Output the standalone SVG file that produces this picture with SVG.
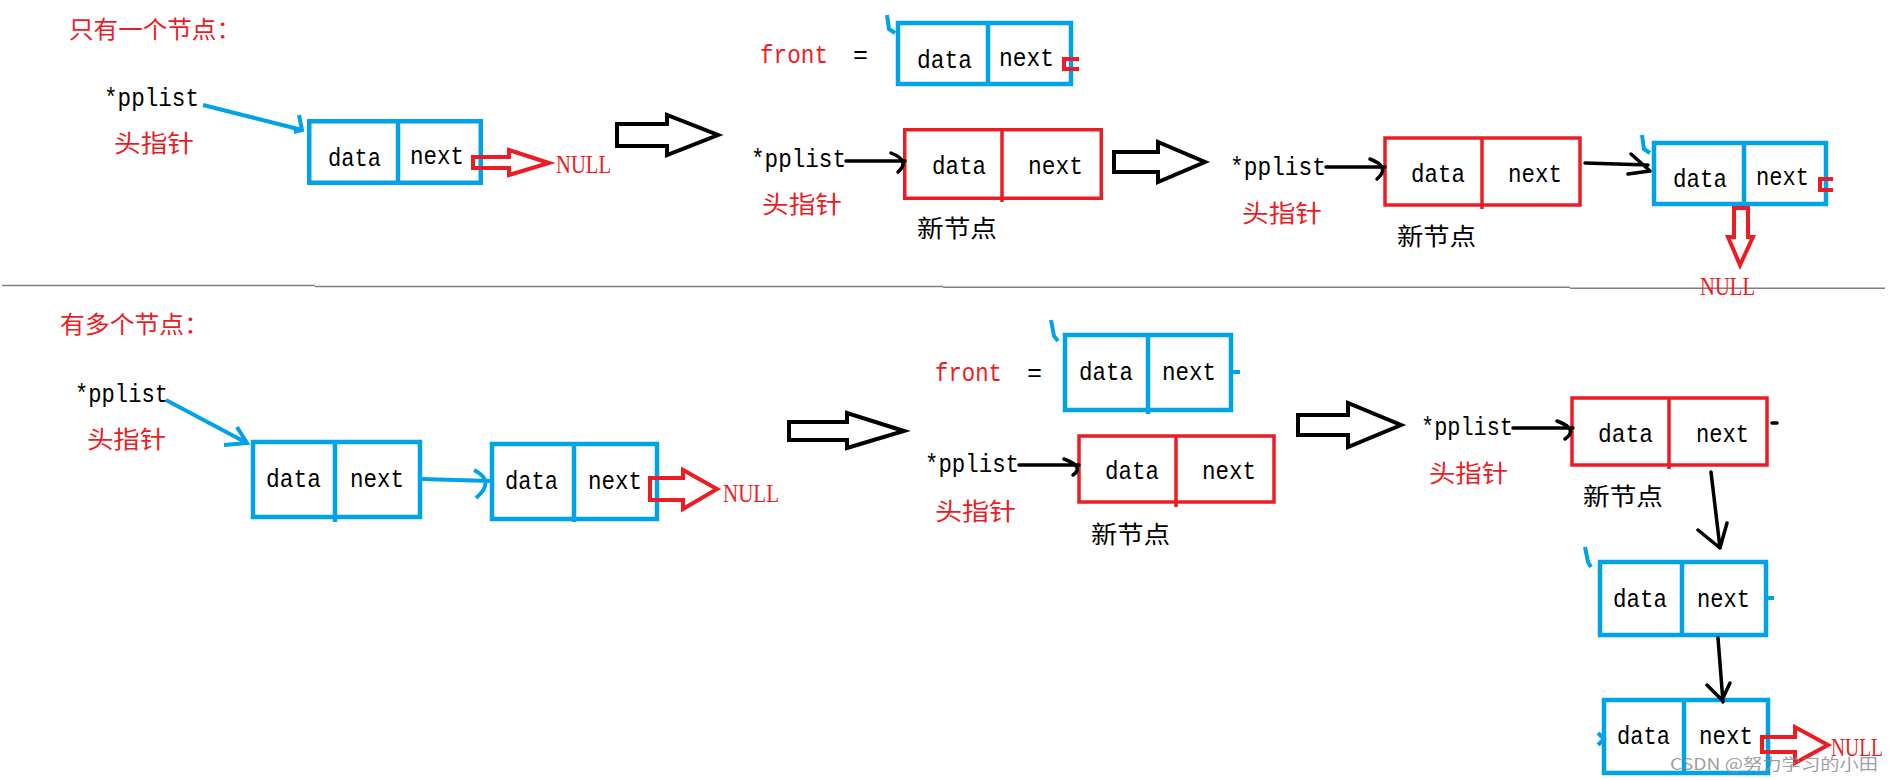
<svg xmlns="http://www.w3.org/2000/svg" width="1893" height="780" viewBox="0 0 1893 780">
<style>
.bb{fill:none;stroke:#00A2E8;stroke-width:4.5}
.bl{fill:none;stroke:#00A2E8;stroke-width:4}
.rb{fill:none;stroke:#ED1C24;stroke-width:3.5}
.rl{fill:none;stroke:#ED1C24;stroke-width:4}
.kl{fill:none;stroke:#000;stroke-width:3.5;stroke-linecap:round;stroke-linejoin:round}
.ha{fill:none;stroke:#000;stroke-width:4;stroke-linejoin:miter}
.ra{fill:none;stroke:#ED1C24;stroke-width:4;stroke-linejoin:miter}
.sep{fill:none;stroke:#808080;stroke-width:1.5}
.m{font-family:"Liberation Mono",monospace;font-size:25px;fill:#000}
.cn{font-family:"Noto Sans CJK SC",sans-serif;font-size:24px}
.red{fill:#ED1C24}
.blk{fill:#000}
.nl{font-family:"Liberation Serif",serif;font-size:26px;fill:#ED1C24}
.wm{font-family:"Noto Sans CJK SC",sans-serif;font-size:16px;fill:#8a8a8a;opacity:0.8}
</style>

<g id="separator">
<path class="sep" d="M2,285.5 H315 M315,286.5 H943 M943,287.3 H1570 M1570,288.3 H1885"/>
</g>

<g id="labels">
<text class="cn red" x="69" y="38" textLength="172" lengthAdjust="spacingAndGlyphs">只有一个节点：</text>
<text class="cn red" x="60" y="333" textLength="149" lengthAdjust="spacingAndGlyphs">有多个节点：</text>
</g>

<!-- Section 1, step 1 -->
<g id="ptr1">
<text class="m" x="104" y="106" textLength="95" lengthAdjust="spacingAndGlyphs">*pplist</text>
<text class="cn red" x="114" y="152" textLength="80" lengthAdjust="spacingAndGlyphs">头指针</text>
</g>
<g id="node1">
<rect class="bb" x="309.25" y="121.25" width="171.5" height="61.5"/>
<line class="bb" x1="398" y1="121" x2="398" y2="183"/>
<text class="m" x="328" y="166" textLength="53" lengthAdjust="spacingAndGlyphs">data</text>
<text class="m" x="410" y="164" textLength="54" lengthAdjust="spacingAndGlyphs">next</text>
</g>
<g id="null1"><text class="nl" x="556" y="173" textLength="55" lengthAdjust="spacingAndGlyphs">NULL</text></g>

<!-- Section 1, step 2 -->
<g id="front1">
<text class="m red" x="760" y="63" textLength="68" lengthAdjust="spacingAndGlyphs">front</text>
<text class="m" x="853" y="63">=</text>
</g>
<g id="node2">
<rect class="bb" x="898" y="23" width="173" height="61"/>
<line class="bb" x1="988" y1="23" x2="988" y2="84"/>
<text class="m" x="917" y="68" textLength="55" lengthAdjust="spacingAndGlyphs">data</text>
<text class="m" x="999" y="66" textLength="55" lengthAdjust="spacingAndGlyphs">next</text>
</g>
<g id="ptr2">
<text class="m" x="751" y="167" textLength="95" lengthAdjust="spacingAndGlyphs">*pplist</text>
<text class="cn red" x="762" y="213" textLength="80" lengthAdjust="spacingAndGlyphs">头指针</text>
</g>
<g id="newnode1">
<rect class="rb" x="904.75" y="129.75" width="196.5" height="68.5"/>
<line class="rb" x1="1002" y1="129" x2="1002" y2="202"/>
<text class="m" x="932" y="174" textLength="54" lengthAdjust="spacingAndGlyphs">data</text>
<text class="m" x="1028" y="174" textLength="55" lengthAdjust="spacingAndGlyphs">next</text>
<text class="cn blk" x="917" y="237" textLength="80" lengthAdjust="spacingAndGlyphs">新节点</text>
</g>

<!-- Section 1, step 3 -->
<g id="ptr3">
<text class="m" x="1230" y="175" textLength="96" lengthAdjust="spacingAndGlyphs">*pplist</text>
<text class="cn red" x="1242" y="222" textLength="80" lengthAdjust="spacingAndGlyphs">头指针</text>
</g>
<g id="newnode2">
<rect class="rb" x="1385" y="138" width="195" height="67"/>
<line class="rb" x1="1482" y1="137" x2="1482" y2="209"/>
<text class="m" x="1411" y="182" textLength="54" lengthAdjust="spacingAndGlyphs">data</text>
<text class="m" x="1508" y="182" textLength="54" lengthAdjust="spacingAndGlyphs">next</text>
<text class="cn blk" x="1397" y="245" textLength="79" lengthAdjust="spacingAndGlyphs">新节点</text>
</g>
<g id="node3">
<rect class="bb" x="1654" y="143" width="172" height="61"/>
<line class="bb" x1="1744" y1="143" x2="1744" y2="204"/>
<text class="m" x="1673" y="187" textLength="54" lengthAdjust="spacingAndGlyphs">data</text>
<text class="m" x="1756" y="185" textLength="53" lengthAdjust="spacingAndGlyphs">next</text>
</g>
<g id="null2"><text class="nl" x="1700" y="295" textLength="55" lengthAdjust="spacingAndGlyphs">NULL</text></g>

<!-- Section 2, step 1 -->
<g id="ptr4">
<text class="m" x="75" y="402" textLength="93" lengthAdjust="spacingAndGlyphs">*pplist</text>
<text class="cn red" x="87" y="448" textLength="79" lengthAdjust="spacingAndGlyphs">头指针</text>
</g>
<g id="node4">
<rect class="bb" x="253" y="442" width="167" height="75"/>
<line class="bb" x1="335" y1="442" x2="335" y2="522"/>
<text class="m" x="266" y="487" textLength="55" lengthAdjust="spacingAndGlyphs">data</text>
<text class="m" x="350" y="487" textLength="54" lengthAdjust="spacingAndGlyphs">next</text>
</g>
<g id="node5">
<rect class="bb" x="492" y="444" width="165" height="75"/>
<line class="bb" x1="574" y1="444" x2="574" y2="522"/>
<text class="m" x="505" y="489" textLength="53" lengthAdjust="spacingAndGlyphs">data</text>
<text class="m" x="588" y="489" textLength="54" lengthAdjust="spacingAndGlyphs">next</text>
</g>
<g id="null3"><text class="nl" x="723" y="502" textLength="56" lengthAdjust="spacingAndGlyphs">NULL</text></g>

<!-- Section 2, step 2 -->
<g id="front2">
<text class="m red" x="935" y="381" textLength="67" lengthAdjust="spacingAndGlyphs">front</text>
<text class="m" x="1027" y="381">=</text>
</g>
<g id="node6">
<rect class="bb" x="1065" y="335" width="166" height="75"/>
<line class="bb" x1="1148" y1="335" x2="1148" y2="414"/>
<text class="m" x="1079" y="380" textLength="54" lengthAdjust="spacingAndGlyphs">data</text>
<text class="m" x="1162" y="380" textLength="54" lengthAdjust="spacingAndGlyphs">next</text>
</g>
<g id="ptr5">
<text class="m" x="925" y="472" textLength="94" lengthAdjust="spacingAndGlyphs">*pplist</text>
<text class="cn red" x="935" y="520" textLength="81" lengthAdjust="spacingAndGlyphs">头指针</text>
</g>
<g id="newnode3">
<rect class="rb" x="1079" y="436" width="195" height="66"/>
<line class="rb" x1="1176" y1="435" x2="1176" y2="507"/>
<text class="m" x="1105" y="479" textLength="54" lengthAdjust="spacingAndGlyphs">data</text>
<text class="m" x="1202" y="479" textLength="54" lengthAdjust="spacingAndGlyphs">next</text>
<text class="cn blk" x="1091" y="543" textLength="79" lengthAdjust="spacingAndGlyphs">新节点</text>
</g>

<!-- Section 2, step 3 -->
<g id="ptr6">
<text class="m" x="1421" y="435" textLength="92" lengthAdjust="spacingAndGlyphs">*pplist</text>
<text class="cn red" x="1429" y="482" textLength="79" lengthAdjust="spacingAndGlyphs">头指针</text>
</g>
<g id="newnode4">
<rect class="rb" x="1572" y="398" width="195" height="67"/>
<line class="rb" x1="1669" y1="397" x2="1669" y2="469"/>
<text class="m" x="1598" y="442" textLength="55" lengthAdjust="spacingAndGlyphs">data</text>
<text class="m" x="1696" y="442" textLength="53" lengthAdjust="spacingAndGlyphs">next</text>
<text class="cn blk" x="1583" y="505" textLength="80" lengthAdjust="spacingAndGlyphs">新节点</text>
</g>
<g id="node7">
<rect class="bb" x="1600" y="562" width="166" height="73"/>
<line class="bb" x1="1682" y1="562" x2="1682" y2="637"/>
<text class="m" x="1613" y="607" textLength="54" lengthAdjust="spacingAndGlyphs">data</text>
<text class="m" x="1697" y="607" textLength="53" lengthAdjust="spacingAndGlyphs">next</text>
</g>
<g id="node8">
<rect class="bb" x="1604" y="700" width="164" height="73"/>
<line class="bb" x1="1684" y1="700" x2="1684" y2="775"/>
<text class="m" x="1617" y="744" textLength="53" lengthAdjust="spacingAndGlyphs">data</text>
<text class="m" x="1699" y="744" textLength="54" lengthAdjust="spacingAndGlyphs">next</text>
</g>
<g id="null4"><text class="nl" x="1831" y="756" textLength="52" lengthAdjust="spacingAndGlyphs">NULL</text></g>

<g id="connectors">
<!-- step arrows (hollow black) -->
<path class="ha" d="M617,124 H667 V115 L718,135 L667,155 V146 H617 Z"/>
<path class="ha" d="M1114,152 H1158 V142 L1205,162 L1158,182 V172 H1114 Z"/>
<path class="ha" d="M789,422 H847 V413 L904,431 L847,448 V440 H789 Z"/>
<path class="ha" d="M1298,415 H1348 V403 L1401,425 L1348,447 V435 H1298 Z"/>
<!-- NULL arrows (hollow red) -->
<path class="ra" d="M473,157 H509 V150 L549,163 L509,175 V168 H473 Z"/>
<path class="ra" d="M650,478 H683 V470 L717,489 L683,509 V500 H650 Z"/>
<path class="ra" d="M1762,737 H1795 V727 L1828,745 L1795,763 V752 H1762 Z"/>
<path class="ra" d="M1734,208 V237 H1728 L1740,265 L1753,237 H1748 V208 Z"/>
<!-- blue pointer arrows -->
<path class="bl" d="M203,105 L302,130 M299,115 L302,130 L294,132"/>
<path class="bl" d="M166,400 L245,442 M237,427 L247,443 L224,445"/>
<path class="bl" d="M422,479 L490,481 M474,470 Q496,481 476,498"/>
<!-- black pointer arrows -->
<path class="kl" d="M846,161 L905,161 M891,153 Q911,161 898,172"/>
<path class="kl" d="M1326,167 L1385,167 M1370,159 Q1391,167 1377,179"/>
<path class="kl" d="M1585,163 L1648,165 M1631,154 L1650,171 L1628,174"/>
<path class="kl" d="M1019,465 L1079,465 M1064,459 Q1085,467 1073,475"/>
<path class="kl" d="M1513,428 L1573,428 M1557,421 Q1579,429 1565,439"/>
<path class="kl" d="M1711,472 L1720,548 M1698,530 L1720,548 L1727,523"/>
<path class="kl" d="M1718,638 L1723,702 M1707,685 L1722,700 L1730,683"/>
<!-- small marks -->
<path class="bl" stroke-width="3" d="M887,15 L889,29 L895,33"/>
<path class="bl" stroke-width="3" d="M1642,135 L1644,149 L1650,153"/>
<path class="bl" stroke-width="3" d="M1051,320 L1054,336 L1058,341"/>
<path class="bl" stroke-width="3" d="M1585,547 L1588,562 L1591,567"/>
<path class="bl" stroke-width="3" d="M1598,733 L1604,739 L1598,745"/>
<path class="rl" d="M1079,59 H1064 V69 H1079"/>
<path class="rl" d="M1833,179 H1820 V190 H1833"/>
<path class="bl" d="M1233,372 H1240 M1768,598 H1774"/>
<path class="kl" stroke-width="2.5" d="M1772,423 H1777"/>
</g>

<g id="watermark">
<text class="wm" x="1670" y="770" textLength="208" lengthAdjust="spacingAndGlyphs">CSDN @努力学习的小田</text>
</g>
</svg>
